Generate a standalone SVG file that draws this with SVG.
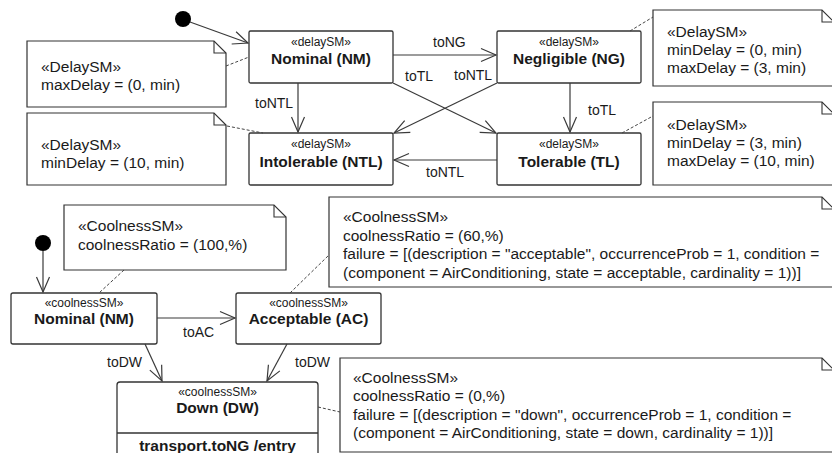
<svg xmlns="http://www.w3.org/2000/svg" width="832" height="453" viewBox="0 0 832 453">
  <style>
    .state { fill: #ffffff; stroke: #333333; stroke-width: 1.3; }
    .note { fill: #ffffff; stroke: #333333; stroke-width: 1.2; }
    .fold { fill: none; stroke: #333333; stroke-width: 1.1; }
    .edge { fill: none; stroke: #3a3a3a; stroke-width: 1.2; }
    .anchor { fill: none; stroke: #444444; stroke-width: 1; stroke-dasharray: 3 2; }
    .init { fill: #000000; }
    text { font-family: "Liberation Sans", Arial, sans-serif; fill: #1a1a1a; }
    .st { font-size: 12px; text-anchor: middle; }
    .nm { font-size: 15.5px; font-weight: bold; text-anchor: middle; }
    .nt { font-size: 15.5px; }
    .lb { font-size: 14px; }
  </style>
  <defs>
    <marker id="open" markerUnits="userSpaceOnUse" markerWidth="20" markerHeight="20" viewBox="-17 -10 20 20" refX="0" refY="0" orient="auto">
      <path d="M-15,-6.5 L0,0 L-15,6.5" fill="none" stroke="#3a3a3a" stroke-width="1.2"/>
    </marker>
  </defs>

  <!-- Delay state machine -->
  <g id="delay-initial"><circle class="init" cx="183" cy="19" r="8"/></g>

  <g id="delay-nominal">
    <rect class="state" x="249" y="31" width="144" height="52" rx="1.5"/>
    <text class="st" x="321" y="46">«delaySM»</text>
    <text class="nm" x="321" y="64">Nominal (NM)</text>
  </g>
  <g id="delay-negligible">
    <rect class="state" x="497" y="31" width="144" height="52" rx="1.5"/>
    <text class="st" x="569" y="46">«delaySM»</text>
    <text class="nm" x="569" y="64">Negligible (NG)</text>
  </g>
  <g id="delay-intolerable">
    <rect class="state" x="249" y="133" width="144" height="52" rx="1.5"/>
    <text class="st" x="321" y="148">«delaySM»</text>
    <text class="nm" x="321" y="167">Intolerable (NTL)</text>
  </g>
  <g id="delay-tolerable">
    <rect class="state" x="497" y="133" width="144" height="52" rx="1.5"/>
    <text class="st" x="569" y="148">«delaySM»</text>
    <text class="nm" x="569" y="167">Tolerable (TL)</text>
  </g>

  <g id="note-nominal-delay">
    <path class="note" d="M27,41 H214 L226,53 V107 H27 Z"/>
    <path class="fold" d="M214,41 V53 H226"/>
    <text class="nt" x="41" y="72">«DelaySM»</text>
    <text class="nt" x="41" y="90">maxDelay = (0, min)</text>
  </g>
  <g id="note-intolerable-delay">
    <path class="note" d="M27,113 H214 L226,125 V185 H27 Z"/>
    <path class="fold" d="M214,113 V125 H226"/>
    <text class="nt" x="41" y="150">«DelaySM»</text>
    <text class="nt" x="41" y="168">minDelay = (10, min)</text>
  </g>
  <g id="note-negligible-delay">
    <path class="note" d="M653,10 H822 L834,22 V86 H653 Z"/>
    <path class="fold" d="M822,10 V22 H834"/>
    <text class="nt" x="667" y="37">«DelaySM»</text>
    <text class="nt" x="667" y="55">minDelay = (0, min)</text>
    <text class="nt" x="667" y="73">maxDelay = (3, min)</text>
  </g>
  <g id="note-tolerable-delay">
    <path class="note" d="M653,102 H822 L834,114 V185 H653 Z"/>
    <path class="fold" d="M822,102 V114 H834"/>
    <text class="nt" x="667" y="130">«DelaySM»</text>
    <text class="nt" x="667" y="148">minDelay = (3, min)</text>
    <text class="nt" x="667" y="166">maxDelay = (10, min)</text>
  </g>

  <!-- Coolness state machine -->
  <g id="cool-initial"><circle class="init" cx="43" cy="243" r="8"/></g>

  <g id="cool-nominal">
    <rect class="state" x="11" y="293" width="146" height="51" rx="2"/>
    <text class="st" x="84" y="307">«coolnessSM»</text>
    <text class="nm" x="84" y="324">Nominal (NM)</text>
  </g>
  <g id="cool-acceptable">
    <rect class="state" x="236" y="293" width="145" height="51" rx="2"/>
    <text class="st" x="308.5" y="307">«coolnessSM»</text>
    <text class="nm" x="308.5" y="324">Acceptable (AC)</text>
  </g>
  <g id="cool-down">
    <rect class="state" x="117" y="382" width="201" height="90" rx="3"/>
    <line class="state" x1="117" y1="433" x2="318" y2="433"/>
    <text class="st" x="217.5" y="396">«coolnessSM»</text>
    <text class="nm" x="217.5" y="413">Down (DW)</text>
    <text class="nm" x="217.5" y="451">transport.toNG /entry</text>
  </g>

  <g id="note-nominal-coolness">
    <path class="note" d="M64,205 H274 L286,217 V270 H64 Z"/>
    <path class="fold" d="M274,205 V217 H286"/>
    <text class="nt" x="78" y="231">«CoolnessSM»</text>
    <text class="nt" x="78" y="250">coolnessRatio = (100,%)</text>
  </g>
  <g id="note-acceptable-coolness">
    <path class="note" d="M329,197 H822 L834,209 V287 H329 Z"/>
    <path class="fold" d="M822,197 V209 H834"/>
    <text class="nt" x="343" y="222">«CoolnessSM»</text>
    <text class="nt" x="343" y="240.5">coolnessRatio = (60,%)</text>
    <text class="nt" x="343" y="259">failure = [(description = "acceptable", occurrenceProb = 1, condition =</text>
    <text class="nt" x="343" y="277.5">(component = AirConditioning, state = acceptable, cardinality = 1))]</text>
  </g>
  <g id="note-down-coolness">
    <path class="note" d="M340,358 H822 L834,370 V452 H340 Z"/>
    <path class="fold" d="M822,358 V370 H834"/>
    <text class="nt" x="353" y="383">«CoolnessSM»</text>
    <text class="nt" x="353" y="401">coolnessRatio = (0,%)</text>
    <text class="nt" x="353" y="419.5">failure = [(description = "down", occurrenceProb = 1, condition =</text>
    <text class="nt" x="353" y="438">(component = AirConditioning, state = down, cardinality = 1))]</text>
  </g>

  <!-- Transitions and note anchors -->
  <g id="connectors">
    <line class="edge" x1="190" y1="22" x2="248" y2="43" marker-end="url(#open)"/>
    <line class="edge" x1="393" y1="55" x2="496" y2="55" marker-end="url(#open)"/>
    <line class="edge" x1="298" y1="83" x2="298" y2="132" marker-end="url(#open)"/>
    <line class="edge" x1="393" y1="83" x2="496" y2="133" marker-end="url(#open)"/>
    <line class="edge" x1="497" y1="83" x2="394" y2="133" marker-end="url(#open)"/>
    <line class="edge" x1="570" y1="83" x2="570" y2="132" marker-end="url(#open)"/>
    <line class="edge" x1="497" y1="160" x2="394" y2="160" marker-end="url(#open)"/>

    <line class="edge" x1="43" y1="251" x2="43" y2="292" marker-end="url(#open)"/>
    <line class="edge" x1="157" y1="318" x2="235" y2="318" marker-end="url(#open)"/>
    <line class="edge" x1="145" y1="344" x2="162" y2="381" marker-end="url(#open)"/>
    <line class="edge" x1="287" y1="344" x2="267" y2="381" marker-end="url(#open)"/>

    <line class="anchor" x1="226" y1="66" x2="249" y2="57"/>
    <line class="anchor" x1="227" y1="126" x2="263" y2="133"/>
    <line class="anchor" x1="630" y1="31" x2="653" y2="17"/>
    <line class="anchor" x1="622" y1="133" x2="653" y2="116"/>
    <line class="anchor" x1="124" y1="270" x2="99" y2="293"/>
    <line class="anchor" x1="290" y1="293" x2="329" y2="255"/>
    <line class="anchor" x1="318" y1="407" x2="340" y2="412"/>

    <text class="lb" x="433" y="47">toNG</text>
    <text class="lb" x="255" y="108">toNTL</text>
    <text class="lb" x="405" y="81">toTL</text>
    <text class="lb" x="454" y="80">toNTL</text>
    <text class="lb" x="588" y="115">toTL</text>
    <text class="lb" x="426" y="177">toNTL</text>
    <text class="lb" x="183" y="337">toAC</text>
    <text class="lb" x="107" y="367">toDW</text>
    <text class="lb" x="295" y="367">toDW</text>
  </g>
</svg>
